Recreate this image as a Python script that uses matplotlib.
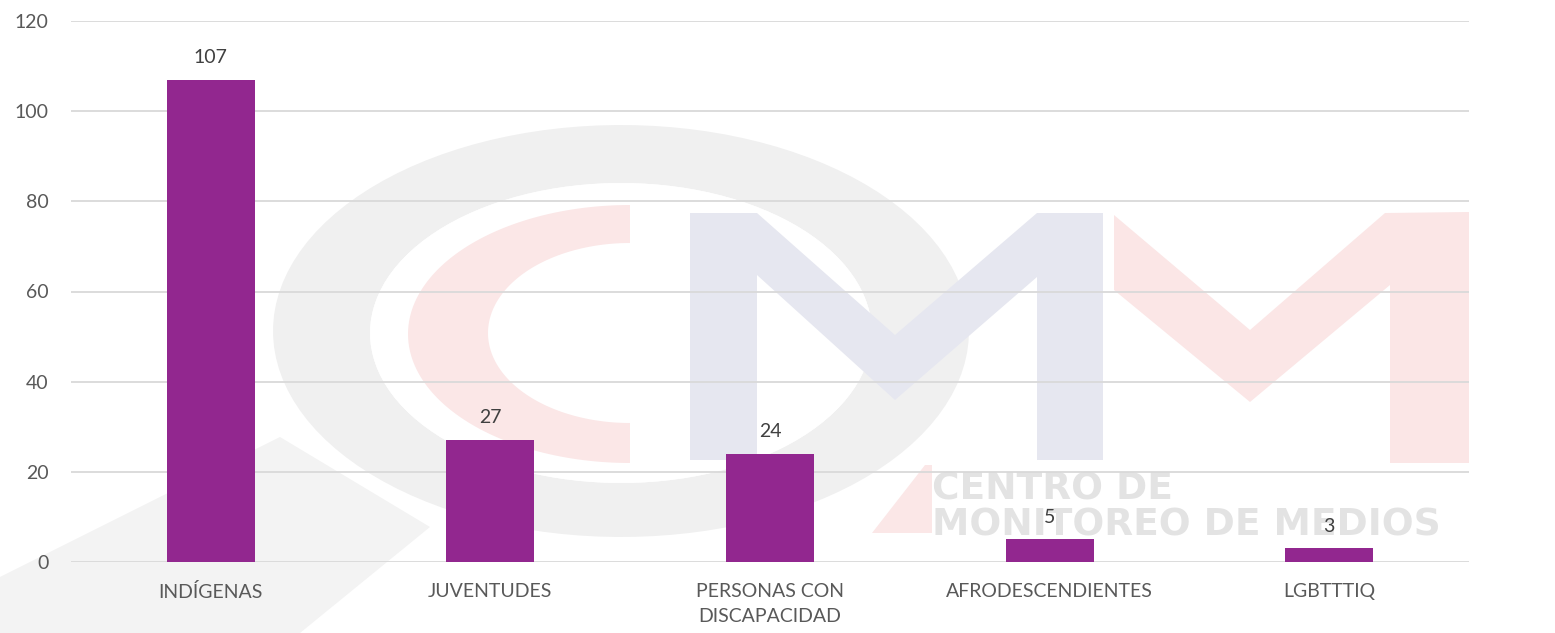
import matplotlib
matplotlib.use("Agg")
import matplotlib.pyplot as plt
import numpy as np
from matplotlib.patches import Polygon

categories = ["INDÍGENAS", "JUVENTUDES", "PERSONAS CON\nDISCAPACIDAD",
              "AFRODESCENDIENTES", "LGBTTTIQ"]
values = [107, 27, 24, 5, 3]
y_ticks = [0, 20, 40, 60, 80, 100, 120]

BAR_COLOR = "#92278f"
GRID_COLOR = "#d9d9d9"
TICK_COLOR = "#595959"
LABEL_COLOR = "#404040"

plt.rcParams["font.family"] = ["Lato", "DejaVu Sans"]

W, H = 1555, 633
fig = plt.figure(figsize=(W / 100, H / 100), dpi=100)


def ellipse_pts(cx, cy, rx, ry, a0, a1, n=120):
    t = np.radians(np.linspace(a0, a1, n))
    return np.column_stack([cx + rx * np.cos(t), cy - ry * np.sin(t)])


# --- faint logo watermark behind the chart (pixel coords) ---
bg = fig.add_axes([0, 0, 1, 1], zorder=0)
bg.set_xlim(0, W)
bg.set_ylim(H, 0)
bg.axis("off")

# grey swoosh bottom-left
bg.add_patch(Polygon([(0, 577), (280, 437), (430, 527), (300, 633), (0, 633)],
                     closed=True, fc="#f3f3f3", ec="none"))
# grey ring
outer = ellipse_pts(621, 331, 348, 206, 0, 360)
inner = ellipse_pts(621, 333, 251, 150, 360, 0)
bg.add_patch(Polygon(np.vstack([outer, inner]), closed=True, fc="#f0f0f0", ec="none"))
bg.add_patch(Polygon(inner, closed=True, fc="white", ec="none"))
# red C
c_out = ellipse_pts(630, 334, 222, 129, 90, 270)
c_in = ellipse_pts(630, 333, 142, 90, 270, 90)
bg.add_patch(Polygon(np.vstack([c_out, c_in]), closed=True, fc="#fbe7e7", ec="none"))
bg.add_patch(Polygon([(872, 533), (925, 465), (932, 465), (932, 533)],
                     closed=True, fc="#fbe7e7", ec="none"))
# blue M
bg.add_patch(Polygon([(690, 213), (757, 213), (895, 335), (1037, 213), (1103, 213),
                      (1103, 460), (1037, 460), (1037, 277), (895, 400), (757, 275),
                      (757, 460), (690, 460)],
                     closed=True, fc="#e6e7f0", ec="none"))
# red M
bg.add_patch(Polygon([(1114, 215), (1250, 330), (1385, 213), (1469, 212), (1469, 463),
                      (1390, 463), (1390, 285), (1250, 402), (1114, 290)],
                     closed=True, fc="#fbe6e6", ec="none"))
bg.text(932, 500, "CENTRO DE", fontsize=27, fontweight="bold", color="#e3e3e3",
        family="DejaVu Sans", ha="left", va="baseline")
bg.text(932, 536, "MONITOREO DE MEDIOS", fontsize=27, fontweight="bold", color="#e3e3e3",
        family="DejaVu Sans", ha="left", va="baseline")

# --- main chart ---
ax = fig.add_axes([71 / W, 1 - 562 / H, (1469 - 71) / W, (562 - 21) / H], zorder=1)
ax.set_facecolor("none")

x = np.arange(len(categories))
bars = ax.bar(x, values, width=0.315, color=BAR_COLOR, zorder=3)

for rect, v in zip(bars, values):
    ax.annotate(str(v), (rect.get_x() + rect.get_width() / 2, v),
                xytext=(0, 10), textcoords="offset points",
                ha="center", va="bottom", fontsize=14, color=LABEL_COLOR)

ax.set_xlim(-0.5, len(categories) - 0.5)
ax.set_ylim(0, 120)
ax.set_yticks(y_ticks)
ax.set_xticks(x)
ax.set_xticklabels(categories, linespacing=1.6)
ax.tick_params(axis="y", length=0, pad=16, labelsize=14, labelcolor=TICK_COLOR)
ax.tick_params(axis="x", length=0, pad=15, labelsize=14, labelcolor=TICK_COLOR)
ax.grid(axis="y", color=GRID_COLOR, linewidth=1.3, zorder=0)
ax.set_axisbelow(True)
for s in ax.spines.values():
    s.set_visible(False)

fig.savefig("out.png", dpi=100)
